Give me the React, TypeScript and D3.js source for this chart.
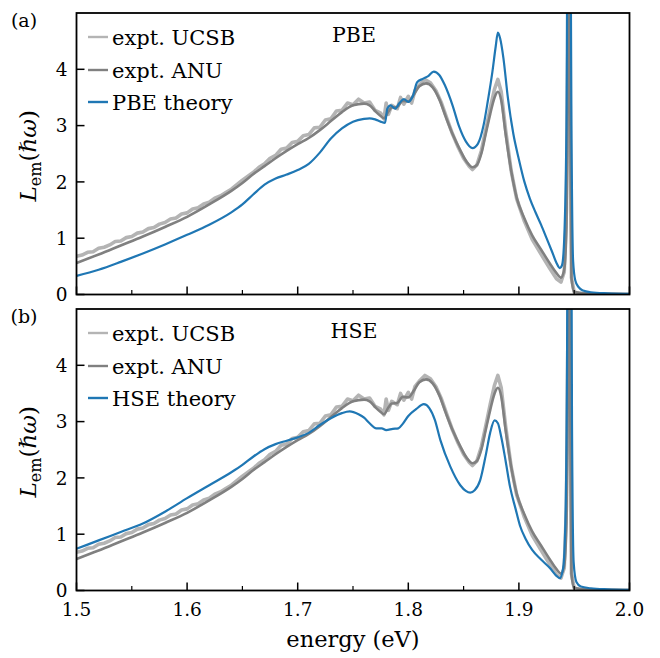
import React from "react";
import * as d3 from "d3";

// ---------- data ----------
const xTicks = [1.5, 1.6, 1.7, 1.8, 1.9, 2.0];
const xMinorTicks = [1.55, 1.65, 1.75, 1.85, 1.95];
const yTicks = [0, 1, 2, 3, 4];

// experiment ANU (same in both panels)
const anuE = [1.5, 1.52, 1.54, 1.56, 1.58, 1.6, 1.62, 1.64, 1.65, 1.66, 1.67, 1.68, 1.69, 1.7, 1.71, 1.72, 1.73, 1.74, 1.75, 1.76, 1.765, 1.77, 1.775, 1.778, 1.782, 1.785, 1.79, 1.795, 1.8, 1.805, 1.81, 1.816, 1.822, 1.828, 1.834, 1.84, 1.847, 1.853, 1.858, 1.862, 1.866, 1.87, 1.874, 1.878, 1.881, 1.884, 1.888, 1.893, 1.898, 1.905, 1.912, 1.92, 1.928, 1.934, 1.938, 1.941, 1.943, 1.9445, 1.9455, 1.9465, 1.9475, 1.95, 1.96, 2.0];
const anuV = [0.56, 0.71, 0.87, 1.03, 1.2, 1.38, 1.6, 1.84, 1.98, 2.14, 2.28, 2.42, 2.55, 2.67, 2.78, 2.92, 3.08, 3.24, 3.36, 3.39, 3.36, 3.26, 3.17, 3.13, 3.25, 3.32, 3.33, 3.44, 3.43, 3.55, 3.7, 3.75, 3.68, 3.47, 3.15, 2.85, 2.56, 2.35, 2.26, 2.3, 2.5, 2.85, 3.2, 3.5, 3.6, 3.45, 2.85, 2.2, 1.72, 1.35, 1.05, 0.8, 0.55, 0.38, 0.3, 0.45, 1.2, 4, 8, 3, 0.3, 0.05, 0.02, 0.01];

// experiment UCSB (noisy)
const ucsbE = [1.5, 1.505, 1.51, 1.515, 1.52, 1.525, 1.53, 1.535, 1.54, 1.545, 1.55, 1.555, 1.56, 1.565, 1.57, 1.575, 1.58, 1.585, 1.59, 1.595, 1.6, 1.605, 1.61, 1.615, 1.62, 1.625, 1.63, 1.635, 1.64, 1.645, 1.65, 1.655, 1.66, 1.665, 1.67, 1.675, 1.68, 1.685, 1.69, 1.695, 1.7, 1.705, 1.71, 1.715, 1.72, 1.725, 1.73, 1.735, 1.74, 1.745, 1.75, 1.755, 1.76, 1.765, 1.77, 1.775, 1.778, 1.78, 1.782, 1.785, 1.79, 1.793, 1.796, 1.8, 1.803, 1.806, 1.81, 1.815, 1.82, 1.825, 1.83, 1.835, 1.84, 1.845, 1.85, 1.855, 1.858, 1.862, 1.866, 1.87, 1.874, 1.878, 1.881, 1.884, 1.888, 1.893, 1.898, 1.905, 1.912, 1.92, 1.928, 1.934, 1.938, 1.941, 1.943, 1.9445, 1.9455, 1.9465, 1.9475, 1.95, 1.96, 2.0];
const ucsbV = [0.68, 0.7, 0.75, 0.76, 0.82, 0.84, 0.88, 0.94, 0.95, 1.01, 1.03, 1.09, 1.11, 1.17, 1.19, 1.25, 1.28, 1.34, 1.36, 1.43, 1.45, 1.52, 1.54, 1.61, 1.64, 1.71, 1.75, 1.81, 1.87, 1.95, 2.03, 2.1, 2.17, 2.26, 2.32, 2.42, 2.47, 2.58, 2.6, 2.7, 2.72, 2.82, 2.84, 2.96, 2.97, 3.1, 3.12, 3.26, 3.27, 3.4, 3.37, 3.47, 3.4, 3.42, 3.27, 3.22, 3.12, 3.4, 3.2, 3.36, 3.3, 3.5, 3.38, 3.52, 3.4, 3.62, 3.72, 3.82, 3.76, 3.62, 3.4, 3.12, 2.85, 2.62, 2.42, 2.28, 2.22, 2.3, 2.55, 2.92, 3.3, 3.65, 3.82, 3.6, 2.92, 2.2, 1.7, 1.3, 0.98, 0.72, 0.46, 0.28, 0.22, 0.4, 1.5, 5, 8, 3, 0.3, 0.04, 0.01, 0.0];

// PBE theory
const pbeE = [1.5, 1.52, 1.54, 1.56, 1.58, 1.6, 1.62, 1.64, 1.65, 1.66, 1.67, 1.68, 1.69, 1.7, 1.71, 1.72, 1.73, 1.74, 1.75, 1.76, 1.765, 1.77, 1.775, 1.779, 1.781, 1.784, 1.788, 1.792, 1.796, 1.8, 1.804, 1.808, 1.813, 1.818, 1.823, 1.828, 1.833, 1.84, 1.846, 1.852, 1.858, 1.863, 1.868, 1.872, 1.876, 1.879, 1.881, 1.883, 1.886, 1.89, 1.895, 1.9, 1.905, 1.91, 1.915, 1.92, 1.925, 1.93, 1.934, 1.937, 1.939, 1.941, 1.943, 1.9445, 1.946, 1.9475, 1.949, 1.951, 1.954, 1.958, 1.965, 1.98, 2.0];
const pbeV = [0.33, 0.44, 0.58, 0.73, 0.89, 1.06, 1.24, 1.46, 1.6, 1.78, 1.95, 2.06, 2.13, 2.21, 2.32, 2.52, 2.77, 2.95, 3.07, 3.12, 3.13, 3.11, 3.07, 3.05, 3.3, 3.36, 3.3, 3.4, 3.47, 3.42, 3.52, 3.77, 3.83, 3.88, 3.96, 3.9, 3.72, 3.36, 2.98, 2.72, 2.6, 2.68, 3.0, 3.45, 3.95, 4.4, 4.65, 4.55, 4.2, 3.5, 2.85, 2.4, 2.0, 1.7, 1.46, 1.24, 1.0, 0.76, 0.56, 0.47, 0.52, 1.0, 3, 9, 9, 3, 0.6, 0.25, 0.13, 0.07, 0.04, 0.02, 0.01];

// HSE theory
const hseE = [1.5, 1.52, 1.54, 1.56, 1.58, 1.6, 1.62, 1.64, 1.65, 1.66, 1.67, 1.68, 1.69, 1.7, 1.71, 1.72, 1.73, 1.74, 1.747, 1.755, 1.76, 1.765, 1.771, 1.776, 1.78, 1.786, 1.791, 1.795, 1.8, 1.807, 1.814, 1.819, 1.824, 1.829, 1.838, 1.847, 1.852, 1.856, 1.86, 1.865, 1.87, 1.874, 1.878, 1.881, 1.884, 1.888, 1.892, 1.897, 1.901, 1.906, 1.912, 1.92, 1.928, 1.934, 1.937, 1.94, 1.942, 1.9435, 1.9445, 1.947, 1.948, 1.9495, 1.952, 1.956, 1.965, 1.98, 2.0];
const hseV = [0.74, 0.89, 1.04, 1.19, 1.4, 1.64, 1.87, 2.1, 2.23, 2.38, 2.51, 2.6, 2.66, 2.72, 2.8, 2.94, 3.06, 3.15, 3.18, 3.13, 3.07, 2.97, 2.88, 2.88, 2.85, 2.87, 2.88, 2.96, 3.1, 3.22, 3.31, 3.24, 3.03, 2.67, 2.2, 1.87, 1.77, 1.74, 1.78, 1.96, 2.4, 2.8, 3.02, 2.97, 2.73, 2.3, 1.84, 1.45, 1.15, 0.92, 0.72, 0.55, 0.4, 0.26, 0.22, 0.4, 1.2, 4, 9, 9, 3, 0.5, 0.15, 0.07, 0.04, 0.02, 0.01];

const panelLabels = ["(a)", "(b)"];
const panelTitles = ["PBE", "HSE"];
const legendLabels = [["expt. UCSB", "expt. ANU", "PBE theory"], ["expt. UCSB", "expt. ANU", "HSE theory"]];

// ---------- layout ----------
const W = 660, H = 658;
const left = 76.5, right = 629.5;
const panelTops = [13, 309];
const panelH = 281.5;
const FONT = "'DejaVu Serif', serif";
const cUCSB = "#b4b4b4", cANU = "#808080", cBlue = "#1f77b4";

const x = d3.scaleLinear().domain([1.5, 2.0]).range([left, right]);

function Panel({ idx }: { idx: number }) {
  const top = panelTops[idx];
  const bottom = top + panelH;
  const y = d3.scaleLinear().domain([0, 5]).range([bottom, top]);
  const line = (es: number[], vs: number[], curve: any) =>
    d3.line<number>().x((_, i) => x(es[i])).y((v) => y(v)).curve(curve)(vs) || "";
  const theoryE = idx === 0 ? pbeE : hseE;
  const theoryV = idx === 0 ? pbeV : hseV;
  const clipId = `clip${idx}`;
  const legY = [top + 24, top + 57, top + 89];
  const legColors = [cUCSB, cANU, cBlue];
  return (
    <g>
      <defs>
        <clipPath id={clipId}>
          <rect x={left} y={top} width={right - left} height={panelH} />
        </clipPath>
      </defs>
      <g clipPath={`url(#${clipId})`} fill="none">
        <path d={line(ucsbE, ucsbV, d3.curveLinear)} stroke={cUCSB} strokeWidth={3.6} strokeLinejoin="round" />
        <path d={line(anuE, anuV, d3.curveMonotoneX)} stroke={cANU} strokeWidth={2.6} />
        <path d={line(theoryE, theoryV, d3.curveMonotoneX)} stroke={cBlue} strokeWidth={2.2} />
      </g>
      {/* ticks */}
      {xTicks.map((t) => (
        <line key={"xt" + t} x1={x(t)} x2={x(t)} y1={bottom} y2={bottom - 8} stroke="#000" strokeWidth={1.5} />
      ))}
      {xMinorTicks.map((t) => (
        <line key={"xm" + t} x1={x(t)} x2={x(t)} y1={bottom} y2={bottom - 4.5} stroke="#000" strokeWidth={1.2} />
      ))}
      {yTicks.map((t) => (
        <g key={"yt" + t}>
          <line x1={left} x2={left + 8} y1={y(t)} y2={y(t)} stroke="#000" strokeWidth={1.5} />
          <text x={left - 9} y={y(t)} dy="0.36em" textAnchor="end" fontFamily={FONT} fontSize={18.5}>{t}</text>
        </g>
      ))}
      {idx === 1 && xTicks.map((t) => (
        <text key={"xl" + t} x={x(t)} y={bottom + 25} textAnchor="middle" fontFamily={FONT} fontSize={18.5}>{t.toFixed(1)}</text>
      ))}
      <rect x={left} y={top} width={right - left} height={panelH} fill="none" stroke="#000" strokeWidth={1.8} />
      {/* legend */}
      {legendLabels[idx].map((lab, i) => (
        <g key={lab}>
          <line x1={88} x2={108} y1={legY[i]} y2={legY[i]} stroke={legColors[i]} strokeWidth={2.4} />
          <text x={112} y={legY[i]} dy="0.36em" fontFamily={FONT} fontSize={21}>{lab}</text>
        </g>
      ))}
      <text x={354} y={top + 29} textAnchor="middle" fontFamily={FONT} fontSize={20.5}>{panelTitles[idx]}</text>
      <text x={24} y={top + 14} textAnchor="middle" fontFamily={FONT} fontSize={19}>{panelLabels[idx]}</text>
      <text transform={`translate(36,${(top + bottom) / 2 + 2}) rotate(-90)`} textAnchor="middle" fontFamily={FONT} fontSize={23}>
        <tspan fontStyle="italic">L</tspan>
        <tspan fontSize={16} dy="5">em</tspan>
        <tspan dy="-5">(</tspan>
        <tspan fontStyle="italic">ℏω</tspan>
        <tspan>)</tspan>
      </text>
    </g>
  );
}

export default function App() {
  return (
    <svg width={W} height={H} style={{ position: "absolute", left: 0, top: 0, background: "#fff" }}>
      <rect width={W} height={H} fill="#fff" />
      <Panel idx={0} />
      <Panel idx={1} />
      <text x={(left + right) / 2} y={647} textAnchor="middle" fontFamily={FONT} fontSize={22.5}>energy (eV)</text>
    </svg>
  );
}
